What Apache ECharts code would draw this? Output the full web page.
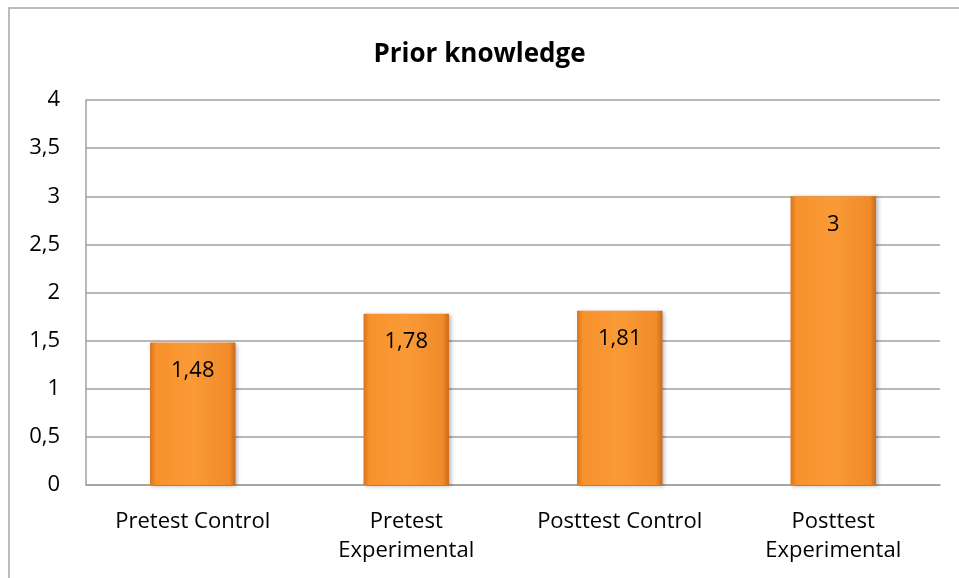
<!DOCTYPE html>
<html>
<head>
<meta charset="utf-8">
<script src="https://cdn.jsdelivr.net/npm/echarts@6/dist/echarts.min.js"></script>
<style>
  html, body { margin: 0; padding: 0; background: #fff; }
  #main { width: 959px; height: 578px; }
</style>
</head>
<body>
<div id="main"></div>
<script>
// chart data
var categories = ['Pretest Control', 'Pretest\nExperimental', 'Posttest Control', 'Posttest\nExperimental'];
var values = [1.48, 1.78, 1.81, 3];
var yTicks = [0, 0.5, 1, 1.5, 2, 2.5, 3, 3.5, 4];

var fontName = '"Open Sans", sans-serif';

function commaNum(v) {
  return String(v).replace('.', ',');
}

var myChart = echarts.init(document.getElementById('main'));
myChart.setOption({
  backgroundColor: '#fff',
  animation: false,
  title: {
    text: 'Prior knowledge',
    left: 'center',
    top: 37,
    textStyle: { fontFamily: fontName, fontSize: 26, fontWeight: 'bold', color: '#000' }
  },
  graphic: [{
    type: 'rect',
    shape: { x: 9, y: 8, width: 960, height: 600 },
    style: { fill: 'none', stroke: '#a6a6a6', lineWidth: 1.5 },
    silent: true
  }],
  grid: { left: 86, right: 19, top: 100, bottom: 93, containLabel: false },
  xAxis: {
    type: 'category',
    data: categories,
    axisTick: { show: false },
    axisLine: { lineStyle: { color: '#a0a0a0', width: 1.5 } },
    axisLabel: {
      fontFamily: fontName, fontSize: 22, color: '#000',
      margin: 22, lineHeight: 29, interval: 0
    }
  },
  yAxis: {
    type: 'value',
    min: yTicks[0],
    max: yTicks[yTicks.length - 1],
    interval: 0.5,
    axisLine: { show: true, lineStyle: { color: '#a0a0a0', width: 1.5 } },
    axisTick: { show: false },
    splitLine: { lineStyle: { color: '#a0a0a0', width: 1.5 } },
    axisLabel: {
      fontFamily: fontName, fontSize: 22, color: '#000', margin: 26,
      formatter: function (v) { return commaNum(v); }
    }
  },
  series: [{
    type: 'bar',
    data: values,
    barWidth: '40%',
    itemStyle: {
      color: new echarts.graphic.LinearGradient(0, 0, 1, 0, [
        { offset: 0, color: '#d9741c' },
        { offset: 0.07, color: '#f7922c' },
        { offset: 0.5, color: '#fa9a36' },
        { offset: 0.93, color: '#f08b2a' },
        { offset: 1, color: '#c9691a' }
      ]),
      shadowColor: 'rgba(0,0,0,0.3)',
      shadowBlur: 4,
      shadowOffsetX: 2,
      shadowOffsetY: 1
    },
    label: {
      show: true,
      position: 'insideTop',
      distance: 17,
      fontFamily: fontName,
      fontSize: 22,
      color: '#000',
      formatter: function (p) { return commaNum(p.value); }
    }
  }]
});
</script>
</body>
</html>
